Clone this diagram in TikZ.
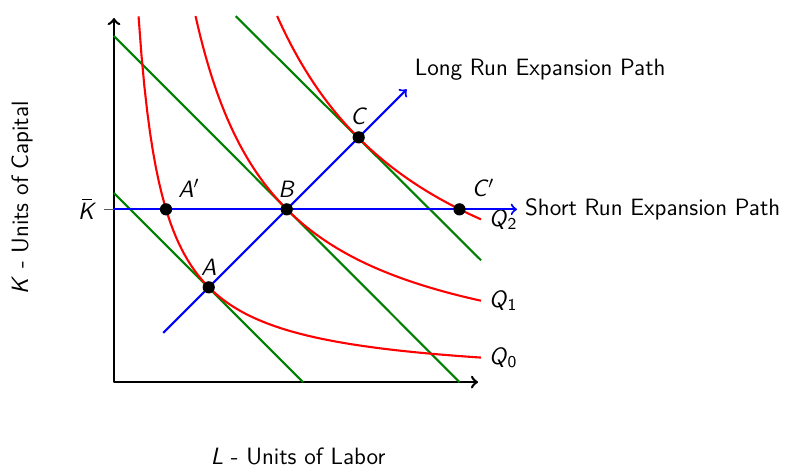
\documentclass[tikz,border=0pt]{standalone}
\renewcommand{\familydefault}{\sfdefault}
\newcommand{\Kbar}{\rlap{\hspace{0.17em}\rule[0.8em]{0.42em}{0.045em}}\textit{K}}
\begin{document}
\begin{tikzpicture}[line join=round, >=to, font=\fontsize{11.2pt}{13.5pt}\selectfont,
		every node/.style={text=black},
		isoquant/.style={red, line width=1pt},
		isocost/.style={green!50!black, line width=1pt},
		expath/.style={blue, line width=1pt, ->}]
			\useasboundingbox (-1.9,-1.43) rectangle (11.22,6.37);
			\coordinate (O) at (0,0);
			\coordinate (Ytop) at (0,6.07);
			\coordinate (Xend) at (6.07,0);
			\coordinate (A) at (1.58,1.58);
			\coordinate (B) at (2.88,2.88);
			\coordinate (C) at (4.08,4.08);
			\coordinate (Ap) at (0.868,2.88);
			\coordinate (Cp) at (5.76,2.88);
			% Achsen
			\draw[line width=1.2pt, <->] (Ytop) -- (O) -- (Xend);
			\coordinate (Kbar) at (0,2.88);
			\draw[gray!70!black] (Kbar) -- ++(-0.17,0) node[left] {\Kbar};
			% Isokostengeraden
			\draw[isocost] (0,3.15) -- (3.15,0);
			\draw[isocost] (0,5.77) -- (5.76,0);
			\draw[isocost] (2.03,6.1) -- (6.12,2.03);
			% Isoquanten
			\draw[isoquant, domain=0.41:6.12, samples=120] plot (\x, {2.5/\x}) node[right] {\textit{Q}\textsubscript{0}};
			\draw[isoquant, domain=1.36:6.12, samples=120] plot (\x, {8.3/\x}) node[right] {\textit{Q}\textsubscript{1}};
			\draw[isoquant, domain=2.72:6.12, samples=120] plot (\x, {16.6/\x}) node[right] {\textit{Q}\textsubscript{2}};
			% Expansionspfade
			\coordinate (LRstart) at (0.82,0.82);
			\coordinate (LRend) at (4.88,4.88);
			\coordinate (SRend) at (6.72,2.88);
			\draw[expath] (LRstart) -- (LRend) node[anchor=west, yshift=0.33cm] {Long Run Expansion Path};
			\draw[expath] (Kbar) -- (SRend) node[right] {Short Run Expansion Path};
			% Punkte
			\foreach \p/\pos/\lab in {A/above/\textit{A}, B/above/\textit{B}, C/above/\textit{C}, Ap/above right/\textit{A}$'$, Cp/above right/\textit{C}$'$}
			\fill (\p) circle (2.9pt) node[\pos, outer sep=2.5pt] {\lab};
			% Achsenbeschriftung
			\node[rotate=90] (ylab) at (-1.53,3.07) {\textit{K} - Units of Capital};
			\node[inner sep=1pt] (xlab) at (3.07,-1.24) {\textit{L} - Units of Labor};
		\end{tikzpicture}
\end{document}
